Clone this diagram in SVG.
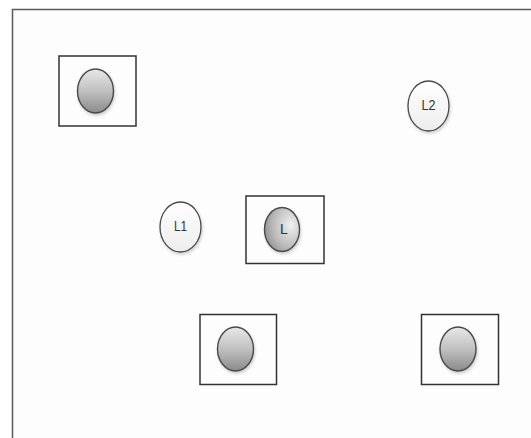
<svg xmlns="http://www.w3.org/2000/svg" width="531" height="438" viewBox="0 0 531 438">
  <defs>
    <linearGradient id="gray" x1="0" y1="0" x2="0" y2="1">
      <stop offset="0" stop-color="#e8e8e8"/>
      <stop offset="0.5" stop-color="#c0c0c0"/>
      <stop offset="1" stop-color="#8a8a8a"/>
    </linearGradient>
    <radialGradient id="grayL" cx="0.75" cy="0.4" r="0.85">
      <stop offset="0" stop-color="#f0f0f0"/>
      <stop offset="0.6" stop-color="#bababa"/>
      <stop offset="1" stop-color="#888888"/>
    </radialGradient>
    <linearGradient id="white" x1="0" y1="0" x2="0" y2="1">
      <stop offset="0" stop-color="#ffffff"/>
      <stop offset="1" stop-color="#ededed"/>
    </linearGradient>
    <filter id="shadow" x="-30%" y="-30%" width="160%" height="160%">
      <feDropShadow dx="1" dy="2" stdDeviation="1.5" flood-color="#000" flood-opacity="0.18"/>
    </filter>
  </defs>
  <style>
    .frame { fill: #fdfdfd; stroke: #5a5a5a; stroke-width: 1.5; }
    .box { fill: none; stroke: #333; stroke-width: 1.5; }
    .dot { fill: url(#gray); stroke: #4a4a4a; stroke-width: 1.4; filter: url(#shadow); }
    .dotL { fill: url(#grayL); stroke: #4a4a4a; stroke-width: 1.4; filter: url(#shadow); }
    .lbl { fill: url(#white); stroke: #4a4a4a; stroke-width: 1.3; filter: url(#shadow); }
    .t { font-family: "Liberation Sans", Arial, sans-serif; font-size: 14px; fill: #333; text-anchor: middle; dominant-baseline: central; }
  </style>
  <rect width="531" height="438" fill="#ffffff"/>
  <rect class="frame" x="12.5" y="9.5" width="530" height="440"/>
  <g id="connectors"/>
  <g id="node-topleft">
    <rect class="box" x="59" y="56" width="77" height="70"/>
    <ellipse class="dot" cx="95.5" cy="91" rx="18" ry="22"/>
  </g>
  <g id="node-L2">
    <ellipse class="lbl" cx="428.5" cy="106" rx="20.5" ry="25"/>
    <text class="t" x="428.5" y="105" textLength="14" lengthAdjust="spacingAndGlyphs">L2</text>
  </g>
  <g id="node-L1">
    <ellipse class="lbl" cx="180.5" cy="227" rx="20.5" ry="25"/>
    <text class="t" x="180.5" y="226" textLength="13" lengthAdjust="spacingAndGlyphs">L1</text>
  </g>
  <g id="node-L">
    <rect class="box" x="246" y="196" width="78" height="67.5"/>
    <ellipse class="dotL" cx="282" cy="229.5" rx="17.5" ry="22"/>
    <text class="t" x="284" y="229">L</text>
  </g>
  <g id="node-bottomleft">
    <rect class="box" x="200" y="314.5" width="76.5" height="70"/>
    <ellipse class="dot" cx="235.5" cy="349" rx="18" ry="22"/>
  </g>
  <g id="node-bottomright">
    <rect class="box" x="421.5" y="314.5" width="77" height="70"/>
    <ellipse class="dot" cx="458" cy="349" rx="18" ry="22"/>
  </g>
</svg>
